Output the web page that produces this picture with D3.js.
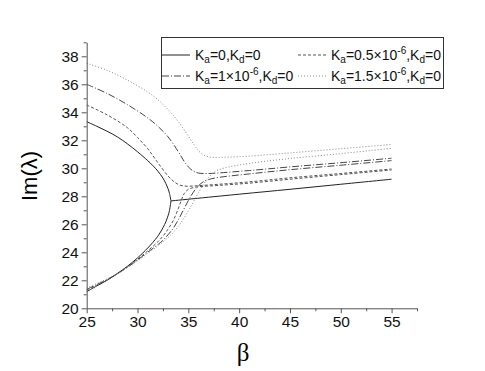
<!DOCTYPE html>
<html>
<head>
<meta charset="utf-8">
<script src="https://cdn.jsdelivr.net/npm/d3@7"></script>
<style>
  body { margin: 0; background: #fff; }
  text { font-family: "Liberation Sans", Arial, sans-serif; }
</style>
</head>
<body>
<div class="chart"></div>
<script>
// Tick values for the axes
var xTicks = [25, 30, 35, 40, 45, 50, 55];
var xMinor = [27.5, 32.5, 37.5, 42.5, 47.5, 52.5, 57.5];
var yTicks = [20, 22, 24, 26, 28, 30, 32, 34, 36, 38];
var yMinor = [21, 23, 25, 27, 29, 31, 33, 35, 37, 39];

// Ka = 0 : two branches meeting at beta ~ 33.3, then one line
var ka0Upper = [[25, 33.33], [26, 33.0], [27, 32.65], [28, 32.25], [29, 31.75], [30, 31.18],
  [31, 30.55], [31.5, 30.2], [32, 29.8], [32.5, 29.3], [32.8, 28.9], [33.0, 28.55], [33.15, 28.2], [33.29, 27.67]];
var ka0Lower = [[25, 21.19], [26, 21.6], [27, 22.0], [28, 22.48], [29, 23.0], [30, 23.6], [31, 24.3],
  [31.5, 24.7], [32, 25.15], [32.5, 25.75], [32.8, 26.2], [33.0, 26.6], [33.15, 27.0], [33.29, 27.67]];
var ka0Merged = [[33.29, 27.67], [40, 28.15], [45, 28.5], [50, 28.86], [55, 29.22]];

// Ka = 0.5e-6
var ka05Upper = [[25, 34.52], [27, 33.82], [29, 32.9], [30, 32.2], [31, 31.4], [32, 30.4], [33, 29.45],
  [33.5, 29.1], [34, 28.85], [34.5, 28.74], [35, 28.72], [36, 28.76], [38, 28.86], [41, 29.03],
  [45, 29.32], [50, 29.63], [55, 29.95]];
var ka05Lower = [[25, 21.3], [26, 21.65], [27, 22.02], [28, 22.45], [29, 22.95], [30, 23.5], [31, 24.1],
  [32, 24.75], [32.5, 25.15], [33, 25.65], [33.5, 26.25], [34, 27.1], [34.3, 27.7], [34.6, 28.2],
  [35, 28.5], [35.5, 28.62], [36, 28.68], [38, 28.78], [41, 28.94], [45, 29.22], [50, 29.55], [55, 29.88]];

// Ka = 1e-6
var ka1Upper = [[25, 36.0], [27, 35.35], [29, 34.55], [31, 33.6], [32, 33.0], [33, 32.25], [34, 31.2],
  [34.5, 30.6], [35, 30.1], [35.5, 29.8], [36, 29.66], [37, 29.63], [38, 29.67], [41, 29.84],
  [45, 30.1], [50, 30.4], [55, 30.72]];
var ka1Lower = [[25, 21.35], [26, 21.7], [27, 22.05], [28, 22.45], [29, 22.93], [30, 23.45], [31, 24.0],
  [32, 24.55], [32.5, 24.85], [33, 25.25], [33.5, 25.7], [34, 26.3], [34.5, 27.0], [35, 27.7],
  [35.5, 28.3], [36, 28.75], [36.5, 29.05], [37, 29.2], [38, 29.35], [41, 29.6], [45, 29.9],
  [50, 30.22], [55, 30.55]];

// Ka = 1.5e-6
var ka15Upper = [[25, 37.5], [27, 37.0], [29, 36.3], [31, 35.45], [32, 34.9], [33, 34.2], [34, 33.35],
  [35, 32.3], [35.5, 31.75], [36, 31.25], [36.5, 30.95], [37, 30.82], [37.5, 30.78], [38, 30.78],
  [39, 30.8], [41, 30.87], [45, 31.1], [50, 31.4], [55, 31.7]];
var ka15Lower = [[25, 21.45], [26, 21.78], [27, 22.1], [28, 22.48], [29, 22.92], [30, 23.4], [31, 23.92],
  [32, 24.45], [33, 25.05], [33.5, 25.4], [34, 25.85], [34.5, 26.35], [35, 26.95], [35.5, 27.6],
  [36, 28.25], [36.5, 28.85], [37, 29.35], [37.5, 29.7], [38, 29.9], [39, 30.1], [41, 30.35],
  [45, 30.7], [50, 31.05], [55, 31.42]];

var svgWidth = 485;
var svgHeight = 371;

var svg = d3.select(".chart")
  .append("svg")
  .attr("width", svgWidth)
  .attr("height", svgHeight);

var x = d3.scaleLinear().domain([25, 57.5]).range([86.7, 417]);
var y = d3.scaleLinear().domain([20, 39]).range([308.3, 42.3]);

// line styles for each Ka
var styles = [
  { color: "#222", dash: null },
  { color: "#555", dash: "3,2" },
  { color: "#444", dash: "7,2,1,2" },
  { color: "#888", dash: "1,2" }
];

var series = [
  { style: 0, branches: [ka0Upper, ka0Lower, ka0Merged] },
  { style: 1, branches: [ka05Upper, ka05Lower] },
  { style: 2, branches: [ka1Upper, ka1Lower] },
  { style: 3, branches: [ka15Upper, ka15Lower] }
];

// branches turn back near the crossing, so a free curve rather than monotone
var line = d3.line()
  .x(function(d) { return x(d[0]); })
  .y(function(d) { return y(d[1]); })
  .curve(d3.curveCatmullRom.alpha(0.5));

series.forEach(function(s) {
  var st = styles[s.style];
  s.branches.forEach(function(b) {
    svg.append("path")
      .datum(b)
      .attr("d", line)
      .attr("fill", "none")
      .attr("stroke", st.color)
      .attr("stroke-width", 1)
      .attr("stroke-dasharray", st.dash);
  });
});

// Axes
svg.append("g")
  .attr("transform", "translate(0," + y(20) + ")")
  .call(d3.axisBottom(x).tickValues(xTicks).tickSize(5).tickSizeOuter(0).tickPadding(3));
svg.append("g")
  .attr("transform", "translate(0," + y(20) + ")")
  .call(d3.axisBottom(x).tickValues(xMinor).tickSize(3).tickSizeOuter(0).tickFormat(""))
  .select(".domain").remove();

svg.append("g")
  .attr("transform", "translate(" + x(25) + ",0)")
  .call(d3.axisLeft(y).tickValues(yTicks).tickSize(5).tickSizeOuter(0).tickPadding(3));
svg.append("g")
  .attr("transform", "translate(" + x(25) + ",0)")
  .call(d3.axisLeft(y).tickValues(yMinor).tickSize(3).tickSizeOuter(0).tickFormat(""))
  .select(".domain").remove();

svg.selectAll(".domain, .tick line").attr("stroke", "#555");
svg.selectAll(".tick text")
  .attr("font-size", 15.5)
  .attr("fill", "#111")
  .style("font-family", '"Liberation Sans", Arial, sans-serif');

// Axis titles
svg.append("text")
  .attr("x", 243)
  .attr("y", 361)
  .attr("text-anchor", "middle")
  .attr("font-size", 25)
  .style("font-family", '"Liberation Serif", "Times New Roman", serif')
  .text("β");

svg.append("text")
  .attr("transform", "translate(37,176) rotate(-90)")
  .attr("text-anchor", "middle")
  .attr("font-size", 22)
  .text("Im(λ)");

// Legend
var legendLabels = [
  { ka: "0", exp: null },
  { ka: "0.5×10", exp: "-6" },
  { ka: "1×10", exp: "-6" },
  { ka: "1.5×10", exp: "-6" }
];
var legendPos = [[161, 55], [297, 55], [161, 76], [297, 76]];

var legend = svg.append("g");
legend.append("rect")
  .attr("x", 161.5).attr("y", 37.5)
  .attr("width", 282).attr("height", 51)
  .attr("fill", "#fff")
  .attr("stroke", "#333")
  .attr("stroke-width", 1);

legendLabels.forEach(function(lab, i) {
  var p = legendPos[i], st = styles[i];
  legend.append("line")
    .attr("x1", p[0] + 1).attr("x2", p[0] + 29)
    .attr("y1", p[1]).attr("y2", p[1])
    .attr("stroke", st.color)
    .attr("stroke-width", 1)
    .attr("stroke-dasharray", st.dash);
  var t = legend.append("text")
    .attr("x", p[0] + 34)
    .attr("y", p[1] + 5)
    .attr("font-size", 14)
    .attr("fill", "#111");
  t.append("tspan").text("K");
  t.append("tspan").attr("font-size", 10).attr("dy", 3).text("a");
  t.append("tspan").attr("dy", -3).text("=" + lab.ka);
  if (lab.exp) {
    t.append("tspan").attr("font-size", 10).attr("dy", -6).text(lab.exp);
    t.append("tspan").attr("dy", 6).text(",K");
  } else {
    t.append("tspan").text(",K");
  }
  t.append("tspan").attr("font-size", 10).attr("dy", 3).text("d");
  t.append("tspan").attr("dy", -3).text("=0");
});
</script>
</body>
</html>
